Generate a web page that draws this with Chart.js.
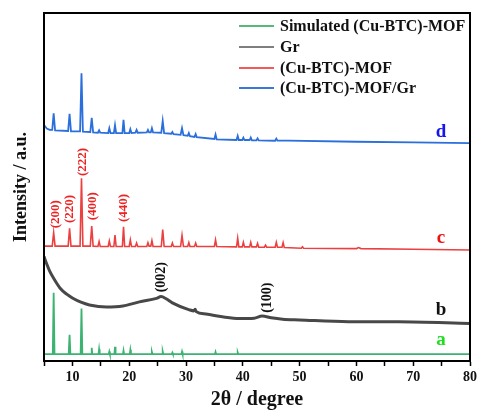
<!DOCTYPE html>
<html><head><meta charset="utf-8">
<script src="https://cdn.jsdelivr.net/npm/chart.js@4/dist/chart.umd.min.js"></script>
<style>html,body{margin:0;padding:0;background:#fff;}canvas{display:block;}</style>
</head><body>
<canvas id="c" width="480" height="411"></canvas>
<script>
// ---- data ----
const seriesNames = ['Simulated (Cu-BTC)-MOF', 'Gr', '(Cu-BTC)-MOF', '(Cu-BTC)-MOF/Gr'];
const seriesLetters = ['a', 'b', 'c', 'd'];
const xTickValues = [10, 20, 30, 40, 50, 60, 70, 80];

// a: simulated pattern
const twoThetaA = [5.0,
  6.55, 6.7, 6.85,  9.35, 9.5, 9.65,  11.45, 11.6, 11.75,  13.3, 13.4, 13.5,
  14.6, 14.7, 14.8,  16.4, 16.5, 16.6,  17.4, 17.5, 17.6,  18.9, 19.0, 19.1,
  20.1, 20.2, 20.3,  23.9, 24.0, 24.1,  25.8, 25.9, 26.0,  27.5, 27.6, 27.7,
  29.2, 29.3, 29.4,  35.1, 35.2, 35.3,  39.0, 39.1, 39.2,
  80.0];
const intensityA = [2.0,
  2.0, 19.6, 2.0,  2.0, 7.5, 2.0,  2.0, 15.1, 2.0,  2.0, 3.8, 2.0,
  2.0, 3.4, 2.0,  2.0, 2.7, 2.0,  2.0, 4.1, 2.0,  2.0, 3.0, 2.0,
  2.0, 3.2, 2.0,  2.0, 2.6, 2.0,  2.0, 2.7, 2.0,  2.0, 2.4, 2.0,
  2.0, 2.7, 2.0,  2.0, 2.6, 2.0,  2.0, 2.5, 2.0,
  2.0];

// b: Gr
const twoThetaB = [5.0, 5.5, 6.0, 6.9, 7.8, 9.0, 10.0, 11.5, 13.0, 16.0,
  18.9, 21.8, 24.8, 25.6, 26.5, 27.6, 30.6, 31.4, 31.6, 31.8,
  33.5, 36.4, 39.4, 42.0, 43.4, 45.0, 47.0, 50.0, 58.6, 67.4, 80.0];
const intensityB = [30.0, 27.8, 25.8, 23.2, 21.0, 19.2, 18.1, 16.9, 16.1, 15.5,
  15.8, 17.0, 18.0, 18.5, 17.9, 16.7, 14.7, 14.4, 14.9, 14.2,
  13.5, 12.7, 12.2, 12.3, 12.9, 12.4, 12.0, 11.8, 11.3, 11.3, 10.8];

// c: (Cu-BTC)-MOF
const twoThetaC = [5.0,
  6.45, 6.7, 6.95,  9.25, 9.5, 9.75,  11.35, 11.6, 11.85,  13.15, 13.4, 13.65,
  14.5, 14.7, 14.9,  16.3, 16.5, 16.7,  17.3, 17.5, 17.7,  18.8, 19.0, 19.2,
  20.0, 20.2, 20.4,  21.1, 21.3, 21.5,  23.1, 23.3, 23.5,  23.8, 24.0, 24.2,
  25.65, 25.9, 26.15,  27.4, 27.6, 27.8,  29.05, 29.3, 29.55,  30.3, 30.5, 30.7,
  31.5, 31.7, 31.9,  35.0, 35.2, 35.4,  38.9, 39.1, 39.3,  39.9, 40.1, 40.3,
  41.2, 41.4, 41.6,  42.4, 42.6, 42.8,  43.8, 44.0, 44.2,  45.7, 45.9, 46.1,
  46.9, 47.1, 47.3,  50.3, 50.5, 50.7,  60.0, 60.4, 60.8,
  70.0, 80.0];
const intensityC = [33.0,
  33.0, 36.9, 33.0,  33.0, 38.1, 33.0,  33.0, 52.5, 33.0,  33.0, 38.8, 33.0,
  32.9, 34.3, 32.9,  32.9, 34.5, 32.9,  32.9, 36.2, 32.9,  32.9, 38.6, 32.9,
  32.9, 34.8, 32.9,  32.9, 33.9, 32.9,  32.9, 34.0, 33.0,  33.0, 34.6, 32.9,
  32.9, 37.8, 32.9,  32.9, 33.9, 32.9,  32.9, 36.1, 32.9,  32.9, 34.0, 32.9,
  32.9, 33.9, 32.9,  32.9, 34.8, 32.9,  32.8, 35.3, 32.8,  32.8, 34.1, 32.8,
  32.8, 34.1, 32.8,  32.8, 33.8, 32.7,  32.7, 33.3, 32.7,  32.7, 34.1, 32.7,
  32.7, 34.0, 32.6,  32.4, 32.8, 32.4,  32.3, 32.6, 32.3,
  32.1, 31.9];

// d: (Cu-BTC)-MOF/Gr
const twoThetaD = [5.0, 5.5, 6.0,
  6.45, 6.7, 6.95,  9.25, 9.5, 9.75,  11.35, 11.6, 11.85,  13.15, 13.4, 13.65,
  14.5, 14.7, 14.9,  16.3, 16.5, 16.7,  17.3, 17.5, 17.7,  18.8, 19.0, 19.2,
  20.0, 20.2, 20.4,  21.1, 21.3, 21.5,  23.1, 23.3, 23.5,  23.8, 24.0, 24.2,
  25.65, 25.9, 26.15,  27.4, 27.6, 27.8,  29.05, 29.3, 29.55,  30.3, 30.5, 30.7,
  31.5, 31.7, 31.9,  35.0, 35.2, 35.4,  38.9, 39.1, 39.3,  39.9, 40.1, 40.3,
  41.2, 41.4, 41.6,  42.4, 42.6, 42.8,  45.7, 45.9, 46.1,
  48.0, 60.0, 70.0, 80.0];
const intensityD = [67.8, 66.8, 66.4,
  66.4, 71.2, 66.3,  66.1, 71.0, 66.0,  66.0, 82.7, 65.9,  65.8, 69.9, 65.7,
  65.6, 66.3, 65.6,  65.5, 66.9, 65.5,  65.5, 67.8, 65.5,  65.5, 69.3, 65.5,
  65.5, 66.6, 65.5,  65.6, 66.4, 65.6,  65.7, 66.4, 65.7,  65.7, 66.9, 65.7,
  65.6, 69.0, 65.5,  65.3, 65.8, 65.2,  65.0, 66.9, 64.9,  64.7, 65.5, 64.6,
  64.4, 65.2, 64.3,  63.8, 65.1, 63.7,  63.5, 64.7, 63.5,  63.5, 64.2, 63.5,
  63.5, 64.2, 63.4,  63.4, 64.0, 63.4,  63.3, 63.9, 63.3,
  63.3, 63.0, 62.8, 62.6];

// peak index labels
const mofPeakLabels = ['(200)', '(220)', '(222)', '(400)', '(440)'];
const grPeakLabels = ['(002)', '(100)'];

// ---- styling / layout ----
const SERIF = '"Liberation Serif", "Times New Roman", Times, serif';
const lineColors = ['#3cb371', '#484848', '#ec4040', '#2a6fdb'];
const legendColors = ['#55b97c', '#7f7f7f', '#f05a5a', '#3a78d8'];
const letterColors = ['#22dd22', '#111111', '#ee1111', '#1515ee'];
const lineWidths = [1.8, 3.0, 1.6, 1.8];

const toPts = (xs, ys) => xs.map((v, i) => ({x: v, y: ys[i]}));
const allX = [twoThetaA, twoThetaB, twoThetaC, twoThetaD];
const allY = [intensityA, intensityB, intensityC, intensityD];

const datasets = seriesNames.map((name, i) => ({
  label: name,
  data: toPts(allX[i], allY[i]),
  borderColor: lineColors[i],
  borderWidth: lineWidths[i],
  pointRadius: 0,
  tension: 0,
  cubicInterpolationMode: i === 1 ? 'monotone' : 'default',
  fill: false
}));

// annotation anchors in data units
const mofLabelPos = [[7.05, 42.2], [9.56, 43.7], [11.89, 57.2], [13.64, 44.5], [19.05, 44.0]];
const grLabelPos = [[25.6, 24.1], [44.3, 18.2]];
const letterPos = [[74.9, 6.0], [74.9, 14.7], [74.9, 35.3], [74.9, 65.9]];

const overlay = {
  id: 'overlay',
  afterDraw(chart) {
    const {ctx, chartArea: a, scales: {x, y}} = chart;
    ctx.save();
    // frame
    ctx.strokeStyle = '#000';
    ctx.lineWidth = 2;
    ctx.strokeRect(a.left, a.top, a.right - a.left, a.bottom - a.top);

    // rotated peak labels
    const rot = (txt, px, py, font, color) => {
      ctx.save();
      ctx.translate(px, py);
      ctx.rotate(-Math.PI / 2);
      ctx.font = font;
      ctx.fillStyle = color;
      ctx.textAlign = 'center';
      ctx.textBaseline = 'middle';
      ctx.fillText(txt, 0, 0);
      ctx.restore();
    };
    mofPeakLabels.forEach((t, i) => rot(t, x.getPixelForValue(mofLabelPos[i][0]), y.getPixelForValue(mofLabelPos[i][1]), 'bold 13px ' + SERIF, '#ee2222'));
    grPeakLabels.forEach((t, i) => rot(t, x.getPixelForValue(grLabelPos[i][0]), y.getPixelForValue(grLabelPos[i][1]), 'bold 14px ' + SERIF, '#111'));

    // series letters
    ctx.font = 'bold 19px ' + SERIF;
    ctx.textAlign = 'center';
    ctx.textBaseline = 'middle';
    seriesLetters.forEach((t, i) => {
      ctx.fillStyle = letterColors[i];
      ctx.fillText(t, x.getPixelForValue(letterPos[i][0]), y.getPixelForValue(letterPos[i][1]));
    });

    // legend
    const rowY = [26, 47, 68, 88];
    ctx.font = 'bold 16px ' + SERIF;
    ctx.textAlign = 'left';
    ctx.textBaseline = 'middle';
    seriesNames.forEach((t, i) => {
      ctx.strokeStyle = legendColors[i];
      ctx.lineWidth = 2;
      ctx.beginPath();
      ctx.moveTo(239, rowY[i]);
      ctx.lineTo(274, rowY[i]);
      ctx.stroke();
      ctx.fillStyle = '#111';
      ctx.fillText(t, 280, rowY[i] + 1);
    });
    ctx.restore();
  }
};

new Chart(document.getElementById('c'), {
  type: 'line',
  data: {datasets},
  options: {
    responsive: false,
    animation: false,
    events: [],
    layout: {padding: {left: 0, top: 13, right: 8, bottom: 0}},
    plugins: {legend: {display: false}, tooltip: {enabled: false}},
    scales: {
      x: {
        type: 'linear',
        min: 5, max: 80,
        afterFit(s) { s.height = 50; },
        afterBuildTicks(s) {
          const t = [];
          for (let v = 5; v <= 80; v += 5) t.push({value: v});
          s.ticks = t;
        },
        ticks: {
          autoSkip: false, maxRotation: 0, padding: 3,
          color: '#111',
          font: {family: SERIF, size: 14, weight: 'bold'},
          callback: v => (xTickValues.includes(v) ? String(v) : '')
        },
        grid: {display: true, drawOnChartArea: false, drawTicks: true, tickLength: 5, tickWidth: 1.5, tickColor: '#000'},
        border: {display: true, color: '#000', width: 2},
        title: {
          display: true, text: '2θ / degree', color: '#111',
          font: {family: SERIF, size: 20, weight: 'bold', lineHeight: 1.1},
          padding: {top: 0, bottom: 0}
        }
      },
      y: {
        type: 'linear',
        min: 0, max: 100,
        afterFit(s) { s.width = 44; },
        ticks: {display: false},
        grid: {display: false},
        border: {display: true, color: '#000', width: 2},
        title: {
          display: true, text: 'Intensity / a.u.', color: '#111',
          font: {family: SERIF, size: 18, weight: 'bold', lineHeight: 1.2},
          padding: {top: 11, bottom: 0}
        }
      }
    }
  },
  plugins: [overlay]
});
</script>
</body></html>
